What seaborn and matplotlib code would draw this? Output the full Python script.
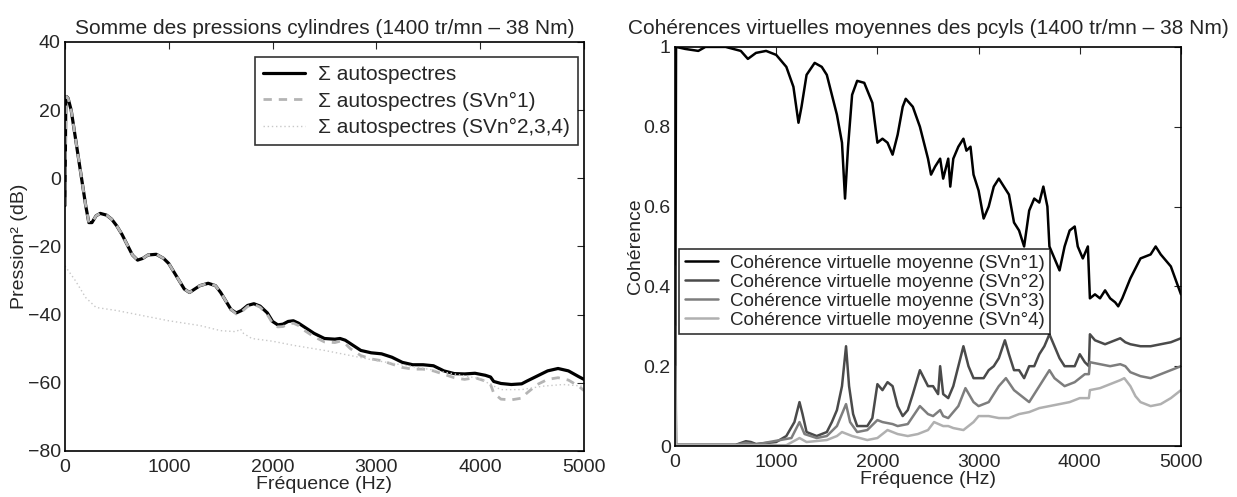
import numpy as np
import pandas as pd
import seaborn as sns
import matplotlib.pyplot as plt
import matplotlib.ticker as ticker

# ---------------------------------------------------------------------------
# data
# left : sum of cylinder pressure autospectra (dB)
f_sum = [0, 8, 15, 30, 60, 100, 150, 200, 230, 260, 300, 340, 400, 450, 500, 550, 600, 650, 700, 750,
         800, 880, 950, 1000, 1050, 1100, 1150, 1200, 1250, 1300, 1380, 1450, 1500, 1550, 1600, 1650,
         1700, 1760, 1820, 1880, 1950, 2000, 2050, 2100, 2150, 2200, 2250, 2300, 2400, 2500, 2600,
         2650, 2700, 2750, 2850, 2950, 3050, 3150, 3250, 3350, 3450, 3550, 3650, 3750, 3850, 3950,
         4050, 4100, 4130, 4200, 4300, 4400, 4450, 4550, 4650, 4750, 4850, 4950, 5000]
sum_all = [-8, 22, 24, 23.5, 20, 12, 2, -8, -13, -13, -11, -10.3, -10.8, -12, -14, -16.5, -19.5, -22.5,
           -24, -23.5, -22.5, -22.3, -23.5, -25, -27.5, -30, -32.5, -33.5, -32.5, -31.5, -30.8, -31.5,
           -33.5, -36, -38.5, -39.5, -38.8, -37.3, -36.8, -37.5, -39.5, -42, -43, -42.8, -42, -41.8,
           -42.5, -43.5, -45.5, -47, -47.2, -47, -47.5, -48.5, -50.5, -51.2, -51.5, -52.5, -54, -54.7,
           -54.7, -55, -56.5, -57.3, -57.4, -57.2, -57.8, -58.3, -59.6, -60.2, -60.5, -60.3, -59.5,
           -58, -56.5, -55.8, -56.5, -58.2, -59]
sum_sv1 = [-8, 22, 24, 23.5, 20, 12, 2, -8, -13, -13, -11, -10.3, -10.8, -12, -14, -16.5, -19.5, -22.5,
           -24, -23.5, -22.5, -22.3, -23.5, -25, -27.5, -30, -32.5, -33.5, -32.5, -31.5, -30.8, -31.5,
           -33.5, -36, -38.5, -39.8, -39.2, -37.6, -37.0, -37.8, -40, -42.5, -43.6, -43.5, -42.8, -42.5,
           -43.2, -44.5, -46.5, -48, -48.2, -47.8, -48.5, -50, -52, -53, -53.5, -54.5, -55.5, -56,
           -56, -56.5, -57.5, -58.5, -59, -58.5, -59.5, -60.5, -63, -64.8, -65, -64.5, -63, -60.5,
           -59, -58.5, -59.2, -61, -62.3]

f_rest = [0, 100, 200, 300, 500, 700, 1000, 1300, 1500, 1650, 1690, 1720, 1800, 2000, 2200, 2500,
          3000, 3500, 4000, 4100, 4200, 4400, 4600, 4800, 5000]
sum_rest = [-25.7, -30, -35, -37.9, -38.8, -40, -41.8, -43.2, -44.7, -45, -44.2, -45.5, -47, -47.8,
            -49, -50.5, -53.5, -56, -58.8, -60.5, -62, -62, -61, -60.5, -61]

# right : mean virtual coherences
f_coh1 = [0, 10, 100, 230, 300, 500, 650, 720, 800, 900, 1000, 1100, 1170, 1220, 1250, 1300, 1380,
          1450, 1500, 1550, 1600, 1650, 1680, 1710, 1750, 1800, 1870, 1950, 2000, 2050, 2100, 2150,
          2200, 2250, 2280, 2350, 2420, 2500, 2530, 2570, 2620, 2650, 2700, 2720, 2750, 2800, 2850,
          2880, 2920, 2950, 3000, 3050, 3100, 3150, 3200, 3250, 3300, 3350, 3400, 3450, 3500, 3550,
          3600, 3640, 3680, 3700, 3750, 3800, 3850, 3900, 3950, 3980, 4030, 4080, 4100, 4150, 4200,
          4250, 4300, 4350, 4380, 4420, 4500, 4600, 4700, 4750, 4800, 4900, 5000]
coh1 = [0.0, 1.0, 0.995, 0.99, 1.0, 1.0, 0.99, 0.97, 0.985, 0.99, 0.98, 0.95, 0.9, 0.81, 0.85, 0.93,
        0.96, 0.95, 0.93, 0.88, 0.83, 0.76, 0.62, 0.75, 0.88, 0.915, 0.91, 0.86, 0.76, 0.77, 0.76,
        0.73, 0.78, 0.85, 0.87, 0.85, 0.8, 0.72, 0.68, 0.7, 0.72, 0.67, 0.72, 0.65, 0.72, 0.75, 0.77,
        0.74, 0.75, 0.68, 0.64, 0.57, 0.6, 0.65, 0.67, 0.65, 0.63, 0.56, 0.54, 0.5, 0.59, 0.62, 0.61,
        0.65, 0.6, 0.5, 0.47, 0.44, 0.5, 0.54, 0.55, 0.5, 0.47, 0.5, 0.37, 0.38, 0.37, 0.39, 0.37,
        0.36, 0.35, 0.37, 0.42, 0.47, 0.48, 0.5, 0.48, 0.45, 0.38]

f_coh2 = [0, 10, 600, 700, 750, 800, 1000, 1100, 1180, 1230, 1260, 1300, 1400, 1500, 1550, 1600,
          1650, 1690, 1720, 1760, 1800, 1900, 1950, 2000, 2050, 2100, 2150, 2200, 2250, 2300, 2350,
          2420, 2460, 2500, 2550, 2600, 2620, 2650, 2700, 2750, 2800, 2850, 2900, 2950, 3000, 3050,
          3100, 3150, 3200, 3260, 3300, 3350, 3400, 3450, 3500, 3550, 3600, 3650, 3700, 3750, 3800,
          3850, 3900, 3950, 4000, 4050, 4090, 4100, 4150, 4200, 4250, 4300, 4350, 4400, 4450, 4500,
          4600, 4700, 4800, 4900, 5000]
coh2 = [0.45, 0.003, 0.003, 0.012, 0.01, 0.005, 0.01, 0.025, 0.06, 0.11, 0.08, 0.035, 0.025, 0.035,
        0.06, 0.09, 0.15, 0.25, 0.15, 0.08, 0.05, 0.05, 0.07, 0.155, 0.14, 0.16, 0.15, 0.1, 0.075,
        0.09, 0.13, 0.19, 0.17, 0.15, 0.15, 0.13, 0.2, 0.13, 0.12, 0.15, 0.2, 0.25, 0.2, 0.17, 0.17,
        0.17, 0.19, 0.2, 0.22, 0.265, 0.23, 0.19, 0.19, 0.17, 0.2, 0.2, 0.23, 0.25, 0.28, 0.25, 0.22,
        0.2, 0.2, 0.2, 0.23, 0.21, 0.2, 0.28, 0.265, 0.26, 0.255, 0.26, 0.265, 0.27, 0.26, 0.255,
        0.25, 0.25, 0.255, 0.26, 0.27]

f_coh3 = [0, 10, 600, 700, 800, 1150, 1230, 1280, 1400, 1500, 1600, 1690, 1730, 1800, 1900, 2000,
          2050, 2150, 2200, 2300, 2420, 2500, 2550, 2620, 2650, 2700, 2800, 2870, 2950, 3000, 3100,
          3200, 3270, 3350, 3450, 3500, 3600, 3700, 3750, 3850, 3950, 4050, 4090, 4100, 4200, 4300,
          4400, 4450, 4500, 4600, 4700, 4800, 4900, 5000]
coh3 = [0.3, 0.003, 0.003, 0.008, 0.004, 0.02, 0.06, 0.03, 0.02, 0.025, 0.05, 0.105, 0.06, 0.035,
        0.04, 0.065, 0.06, 0.055, 0.05, 0.055, 0.1, 0.08, 0.075, 0.09, 0.075, 0.07, 0.1, 0.145, 0.11,
        0.1, 0.11, 0.15, 0.17, 0.14, 0.12, 0.11, 0.15, 0.19, 0.17, 0.15, 0.16, 0.18, 0.18, 0.21,
        0.205, 0.2, 0.205, 0.2, 0.185, 0.175, 0.17, 0.18, 0.19, 0.2]

f_coh4 = [0, 10, 1100, 1230, 1300, 1500, 1600, 1650, 1750, 1900, 2000, 2100, 2200, 2300, 2400, 2500,
          2560, 2650, 2700, 2750, 2850, 2950, 3000, 3100, 3200, 3300, 3400, 3500, 3600, 3700, 3800,
          3900, 4000, 4090, 4100, 4200, 4300, 4400, 4440, 4500, 4550, 4600, 4700, 4800, 4900, 5000]
coh4 = [0.2, 0.002, 0.002, 0.02, 0.01, 0.015, 0.025, 0.035, 0.025, 0.015, 0.02, 0.04, 0.03, 0.025,
        0.03, 0.04, 0.06, 0.05, 0.05, 0.045, 0.04, 0.06, 0.075, 0.075, 0.07, 0.07, 0.08, 0.085, 0.095,
        0.1, 0.105, 0.11, 0.12, 0.12, 0.14, 0.145, 0.155, 0.165, 0.17, 0.15, 0.125, 0.11, 0.1, 0.105,
        0.12, 0.14]

# ---------------------------------------------------------------------------
sns.set_style("white")
plt.rcParams['font.family'] = ['Liberation Sans', 'DejaVu Sans']
plt.rcParams['xtick.direction'] = 'in'
plt.rcParams['ytick.direction'] = 'in'

fs = 14
fig = plt.figure(figsize=(12.37, 4.97), dpi=100)
ax = fig.add_axes([0.0525, 0.0926, 0.4196, 0.823])
ax2 = fig.add_axes([0.5457, 0.1026, 0.409, 0.803])

# left plot ---------------------------------------------------------------
sns.lineplot(x=f_sum, y=sum_all, ax=ax, color='k', lw=2.3, estimator=None, label='Σ autospectres')
sns.lineplot(x=f_sum, y=sum_sv1, ax=ax, color='#b4b4b4', lw=2, estimator=None,
             label='Σ autospectres (SVn°1)', linestyle=(0, (3, 2.5)))
sns.lineplot(x=f_rest, y=sum_rest, ax=ax, color='#c8c8c8', lw=1, estimator=None,
             label='Σ autospectres (SVn°2,3,4)', linestyle=(0, (1, 2)))

ax.set_xlim(0, 5000)
ax.set_ylim(-80, 40)
ax.set_xticks(range(0, 5001, 1000))
ax.set_yticks(range(-80, 41, 20))
ax.set_title('Somme des pressions cylindres (1400 tr/mn – 38 Nm)', fontsize=15, pad=6)
ax.set_xlabel('Fréquence (Hz)', fontsize=fs, labelpad=0)
ax.set_ylabel('Pression² (dB)', fontsize=fs, labelpad=0)
ax.legend(loc='upper right', bbox_to_anchor=(0.988, 0.963), fontsize=15, frameon=True,
          fancybox=False, edgecolor='k', borderaxespad=0, handlelength=2.0, handletextpad=0.6,
          labelspacing=0.35, borderpad=0.4)

# right plot --------------------------------------------------------------
grays = ['#000000', '#4a4a4a', '#7d7d7d', '#b0b0b0']
for i, (fx, cy) in enumerate([(f_coh1, coh1), (f_coh2, coh2), (f_coh3, coh3), (f_coh4, coh4)]):
    sns.lineplot(x=fx, y=cy, ax=ax2, color=grays[i], lw=1.8, estimator=None,
                 label=f'Cohérence virtuelle moyenne (SVn°{i+1})')

ax2.set_xlim(0, 5000)
ax2.set_ylim(0, 1)
ax2.set_xticks(range(0, 5001, 1000))
ax2.set_yticks([0, 0.2, 0.4, 0.6, 0.8, 1])
ax2.yaxis.set_major_formatter(ticker.FuncFormatter(lambda v, p: f'{v:g}'))
ax2.set_title('Cohérences virtuelles moyennes des pcyls (1400 tr/mn – 38 Nm)', fontsize=15, pad=9)
ax2.set_xlabel('Fréquence (Hz)', fontsize=fs, labelpad=0)
ax2.set_ylabel('Cohérence', fontsize=fs, labelpad=0)
ax2.legend(loc='lower left', bbox_to_anchor=(0.008, 0.28), fontsize=13.5, frameon=True,
           fancybox=False, edgecolor='k', borderaxespad=0, handlelength=1.8, handletextpad=0.6,
           labelspacing=0.1, borderpad=0.3)

# cosmetics ----------------------------------------------------------------
for a in [ax, ax2]:
    a.tick_params('both', labelsize=fs, top=True, right=True, length=5, width=0.8)
    a.tick_params('x', pad=6)
    a.tick_params('y', pad=3)
    for sp in a.spines.values():
        sp.set_visible(True)
        sp.set_color('k')
        sp.set_linewidth(1.2)
    a.get_legend().get_frame().set_linewidth(1.2)

plt.savefig('out.png', dpi=100)
